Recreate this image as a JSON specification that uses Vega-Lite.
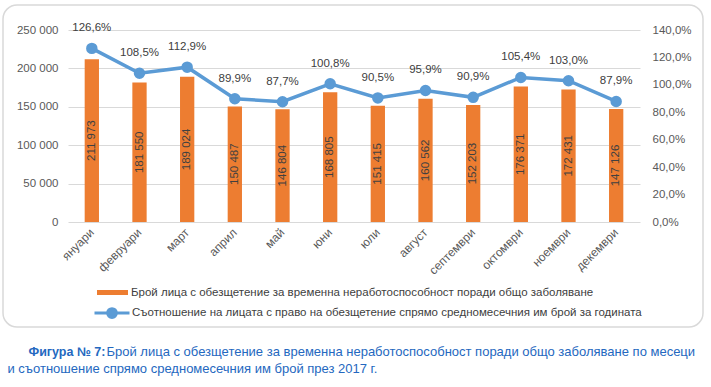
{
  "$schema": "https://vega.github.io/schema/vega-lite/v6.json",
  "width": 700,
  "height": 322,
  "autosize": "none",
  "padding": {"left": 3, "top": 5, "right": 8, "bottom": 60},
  "data": {
    "values": [
      {"month": "януари", "count": 211973, "pct": 1.266},
      {"month": "февруари", "count": 181550, "pct": 1.085},
      {"month": "март", "count": 189024, "pct": 1.129},
      {"month": "април", "count": 150487, "pct": 0.899},
      {"month": "май", "count": 146804, "pct": 0.877},
      {"month": "юни", "count": 168805, "pct": 1.008},
      {"month": "юли", "count": 151415, "pct": 0.905},
      {"month": "август", "count": 160562, "pct": 0.959},
      {"month": "септември", "count": 152203, "pct": 0.909},
      {"month": "октомври", "count": 176371, "pct": 1.054},
      {"month": "ноември", "count": 172431, "pct": 1.030},
      {"month": "декември", "count": 147126, "pct": 0.879}
    ]
  },
  "layer": [
    {
      "mark": {"type": "bar"},
      "encoding": {
        "x": {
          "field": "month",
          "type": "nominal",
          "sort": null,
          "scale": {"paddingInner": 0.7, "paddingOuter": 0.35, "rangeMin": 65, "rangeMax": 637},
          "axis": {
            "title": "Фигура № 7:",
            "titleFontWeight": "bold",
            "titleFontSize": 12.5,
            "titleAngle": 0,
            "titleAlign": "left",
            "titleBaseline": "middle",
            "titleX": 25,
            "titleY": 129,
            "labelAngle": -45,
            "labelAlign": "right",
            "labelBaseline": "middle",
            "domain": false,
            "ticks": false,
            "labelPadding": 8,
            "offset": -105,
            "grid": false,
            "labelFontSize": 12
          }
        },
        "y": {
          "field": "count",
          "type": "quantitative",
          "scale": {"domain": [0, 250000], "rangeMin": 217, "rangeMax": 25},
          "axis": {
            "title": "и съотношение спрямо средномесечния им брой през 2017 г.",
            "titleFontWeight": "normal",
            "titleAngle": 0,
            "titleAlign": "left",
            "titleBaseline": "middle",
            "titleX": -61,
            "titleY": 363,
            "orient": "left",
            "values": [0, 50000, 100000, 150000, 200000, 250000],
            "format": ",d",
            "domain": false,
            "ticks": false,
            "labelPadding": 10,
            "offset": -65,
            "grid": true,
            "gridColor": "#D9D9D9",
            "gridWidth": 1
          }
        },
        "fill": {
          "datum": "Брой лица с обезщетение за временна неработоспособност поради общо заболяване",
          "type": "nominal",
          "scale": {"range": ["#ED7D31"]},
          "legend": {
            "title": null,
            "orient": "none",
            "legendX": 94,
            "legendY": 272,
            "symbolType": "M-1,-0.16L1,-0.16L1,0.16L-1,0.16Z",
            "symbolSize": 961,
            "symbolStrokeWidth": 0,
            "labelOffset": 3,
            "labelFontSize": 11.5,
            "labelLimit": 0
          }
        }
      }
    },
    {
      "layer": [
        {
          "mark": {
            "type": "line",
            "color": "#5B9BD5",
            "strokeWidth": 3.5,
            "point": {"filled": true, "size": 90, "color": "#5B9BD5"}
          },
          "encoding": {
            "x": {"field": "month", "type": "nominal", "sort": null},
            "y": {
              "field": "pct",
              "type": "quantitative",
              "scale": {"domain": [0, 1.4], "rangeMin": 217, "rangeMax": 25},
              "axis": {
                "title": "Брой лица с обезщетение за временна неработоспособност поради общо заболяване по месеци",
                "titleFontWeight": "normal",
                "titleAngle": 0,
                "titleAlign": "left",
                "titleBaseline": "middle",
                "titleX": -534,
                "titleY": 346,
                "orient": "right",
                "values": [0, 0.2, 0.4, 0.6, 0.8, 1.0, 1.2, 1.4],
                "format": ".1%",
                "domain": false,
                "ticks": false,
                "labelPadding": 12,
                "offset": -63,
                "grid": false
              }
            },
            "stroke": {
              "datum": "Съотношение на лицата с право на обезщетение спрямо средномесечния им брой за годината",
              "type": "nominal",
              "scale": {"range": ["#5B9BD5"]},
              "legend": {
                "title": null,
                "orient": "none",
                "legendX": 90,
                "legendY": 289,
                "symbolType": "M-1,0L1,0M-0.25,0A0.25,0.25,0,1,1,0.25,0A0.25,0.25,0,1,1,-0.25,0Z",
                "symbolSize": 1225,
                "symbolStrokeWidth": 3,
                "symbolFillColor": "#5B9BD5",
                "labelOffset": 1,
                "labelFontSize": 11.5,
                "labelLimit": 0
              }
            }
          }
        },
        {
          "mark": {"type": "text", "dy": -20, "align": "center", "baseline": "middle"},
          "encoding": {
            "x": {"field": "month", "type": "nominal", "sort": null},
            "y": {"field": "pct", "type": "quantitative"},
            "text": {"field": "pct", "format": ".1%"}
          }
        }
      ]
    },
    {
      "mark": {"type": "text", "angle": 270, "align": "center", "baseline": "middle"},
      "encoding": {
        "x": {"field": "month", "type": "nominal", "sort": null},
        "y": {
          "field": "count",
          "type": "quantitative",
          "scale": {"domain": [0, 500000], "rangeMin": 217, "rangeMax": 25},
          "axis": null
        },
        "text": {"field": "count", "format": ",d"}
      }
    }
  ],
  "resolve": {"scale": {"y": "independent"}},
  "config": {
    "locale": {
      "number": {"decimal": ",", "thousands": " ", "grouping": [3], "currency": ["", ""]}
    },
    "view": {"stroke": "#D9D9D9", "strokeWidth": 1.5, "cornerRadius": 14},
    "axis": {
      "labelFont": "Liberation Sans",
      "labelColor": "#595959",
      "labelFontSize": 11.5,
      "titleFont": "Liberation Sans",
      "titleFontSize": 13,
      "titleColor": "#2468C0",
      "titleLimit": 0
    },
    "legend": {
      "labelFont": "Liberation Sans",
      "labelColor": "#404040"
    },
    "text": {"font": "Liberation Sans", "fontSize": 11.5, "fill": "#404040"}
  }
}
